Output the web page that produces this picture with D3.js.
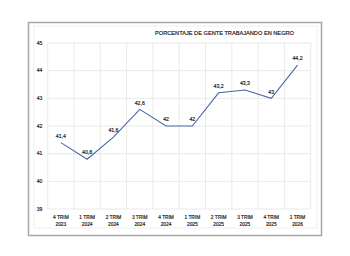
<!DOCTYPE html>
<html>
<head>
<meta charset="utf-8">
<script src="https://cdn.jsdelivr.net/npm/d3@7"></script>
<style>
  body{margin:0;background:#fff;}
  text{font-family:"Liberation Sans",Arial,sans-serif;fill:#111;}
</style>
</head>
<body>
<div id="chart"></div>
<script>
// quarters and values
var periods = ["4 TRIM|2023","1 TRIM|2024","2 TRIM|2024","3 TRIM|2024","4 TRIM|2024",
               "1 TRIM|2025","2 TRIM|2025","3 TRIM|2025","4 TRIM|2025","1 TRIM|2026"];
var values = [41.4, 40.8, 41.6, 42.6, 42, 42, 43.2, 43.3, 43, 44.2];
var yTicks = [39, 40, 41, 42, 43, 44, 45];
var title = "PORCENTAJE  DE  GENTE  TRABAJANDO   EN  NEGRO";

var W = 350, H = 256;
var svg = d3.select("#chart").append("svg").attr("width", W).attr("height", H);

// frame
svg.append("rect").attr("x", 28.5).attr("y", 22.5).attr("width", 293).attr("height", 213)
  .attr("fill", "#fff").attr("stroke", "#a8a8a8").attr("stroke-width", 1.5);
svg.append("rect").attr("x", 34).attr("y", 26).attr("width", 283).attr("height", 202)
  .attr("fill", "none").attr("stroke", "#ececec").attr("stroke-width", 0.8);

var x = d3.scaleBand().domain(periods).range([47.7, 310.7]);
var y = d3.scaleLinear().domain([39, 45]).range([209, 43]);

var grid = svg.append("g").attr("stroke", "#e3e3e3").attr("stroke-width", 0.8);
grid.selectAll(".h").data(yTicks).enter().append("line")
  .attr("x1", x.range()[0]).attr("x2", x.range()[1])
  .attr("y1", function(d){ return y(d); }).attr("y2", function(d){ return y(d); });
var edges = periods.map(function(p){ return x(p); }).concat([x.range()[1]]);
grid.selectAll(".v").data(edges).enter().append("line")
  .attr("x1", function(d){ return d; }).attr("x2", function(d){ return d; })
  .attr("y1", y(45)).attr("y2", y(39));

// y labels
svg.append("g").selectAll("text").data(yTicks).enter().append("text")
  .attr("x", 39.5).attr("y", function(d){ return y(d) + 1.8; })
  .attr("text-anchor", "middle").attr("font-size", 5)
  .attr("stroke", "#111").attr("stroke-width", 0.15)
  .text(function(d){ return d; });

// x labels
var xl = svg.append("g").selectAll("text").data(periods).enter().append("text")
  .attr("text-anchor", "middle").attr("font-size", 4.8)
  .attr("stroke", "#111").attr("stroke-width", 0.15)
  .attr("x", function(d){ return x(d) + x.bandwidth() / 2; });
xl.append("tspan").attr("y", 218.5)
  .attr("x", function(d){ return x(d) + x.bandwidth() / 2; })
  .text(function(d){ return d.split("|")[0]; });
xl.append("tspan").attr("y", 225.5)
  .attr("x", function(d){ return x(d) + x.bandwidth() / 2; })
  .text(function(d){ return d.split("|")[1]; });

// line
var line = d3.line()
  .x(function(d, i){ return x(periods[i]) + x.bandwidth() / 2; })
  .y(function(d){ return y(d); });
svg.append("path").datum(values).attr("d", line)
  .attr("fill", "none").attr("stroke", "#4a67a8").attr("stroke-width", 1.1);

// value labels
svg.append("g").selectAll("text").data(values).enter().append("text")
  .attr("x", function(d, i){ return x(periods[i]) + x.bandwidth() / 2; })
  .attr("y", function(d){ return y(d) - 4.8; })
  .attr("text-anchor", "middle").attr("font-size", 5.2)
  .attr("stroke", "#111").attr("stroke-width", 0.15)
  .text(function(d){ return String(d).replace(".", ","); });

// title
svg.append("text").attr("x", 224.5).attr("y", 35)
  .attr("text-anchor", "middle").attr("font-size", 5.4)
  .attr("stroke", "#111").attr("stroke-width", 0.15)
  .attr("textLength", 139).attr("lengthAdjust", "spacingAndGlyphs")
  .text(title);
</script>
</body>
</html>
